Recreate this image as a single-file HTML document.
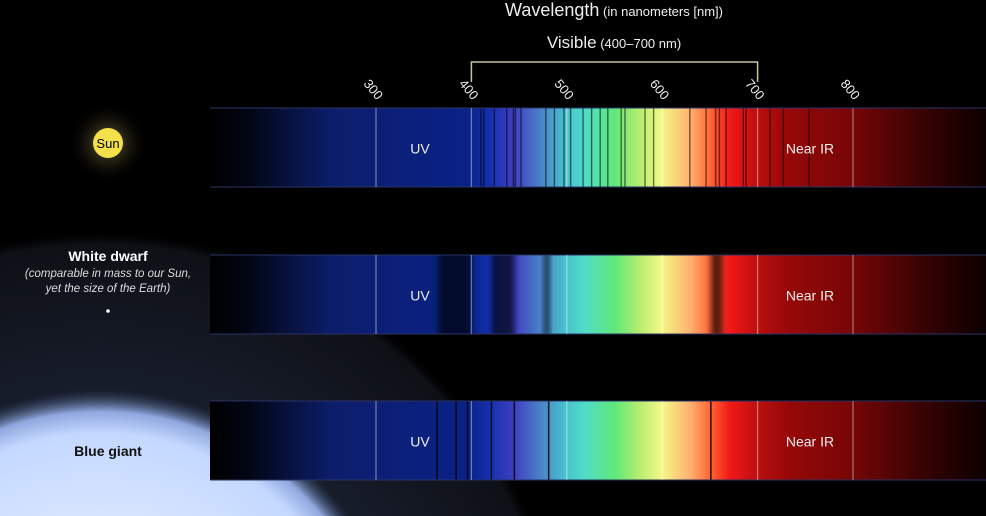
<!DOCTYPE html>
<html><head><meta charset="utf-8"><style>
html,body{margin:0;padding:0;background:#000;width:986px;height:516px;overflow:hidden;}
svg{display:block;font-family:"Liberation Sans",sans-serif;}
</style></head><body>
<svg id="chart" width="986" height="516" viewBox="0 0 986 516" xmlns="http://www.w3.org/2000/svg">
<defs>
  <radialGradient id="halo" cx="100" cy="700" r="470" gradientUnits="userSpaceOnUse">
    <stop offset="0" stop-color="#2e3a52"/>
    <stop offset="0.7" stop-color="#161b28"/>
    <stop offset="0.97" stop-color="#0e1016"/>
    <stop offset="1" stop-color="#000" stop-opacity="0"/>
  </radialGradient>
  <radialGradient id="giant" cx="100" cy="700" r="310" gradientUnits="userSpaceOnUse">
    <stop offset="0" stop-color="#ffffff"/>
    <stop offset="0.86" stop-color="#c4d8ff"/>
    <stop offset="0.93" stop-color="#90a8de"/>
    <stop offset="1" stop-color="#3a4a70" stop-opacity="0"/>
  </radialGradient>
  <radialGradient id="sunglow" cx="0.5" cy="0.5" r="0.5">
    <stop offset="0" stop-color="#fff" stop-opacity="0.35"/>
    <stop offset="0.4" stop-color="#aa9955" stop-opacity="0.25"/>
    <stop offset="1" stop-color="#000" stop-opacity="0"/>
  </radialGradient>
  <filter id="blur" x="-50%" y="0" width="200%" height="100%"><feGaussianBlur stdDeviation="3 0"/></filter>
  <linearGradient id="spec" x1="210" x2="986" y1="0" y2="0" gradientUnits="userSpaceOnUse">
    <stop offset="0" stop-color="#000"/>
    <stop offset="0.05" stop-color="#020614"/>
    <stop offset="0.155" stop-color="#0c1d6a"/>
    <stop offset="0.335" stop-color="#0a2288"/>
    <stop offset="0.361" stop-color="#1530b0"/>
    <stop offset="0.393" stop-color="#4040c0"/>
    <stop offset="0.425" stop-color="#4a80c8"/>
    <stop offset="0.457" stop-color="#48c0cc"/>
    <stop offset="0.483" stop-color="#50dcc8"/>
    <stop offset="0.522" stop-color="#60e878"/>
    <stop offset="0.554" stop-color="#b8ec70"/>
    <stop offset="0.582" stop-color="#f4f888"/>
    <stop offset="0.619" stop-color="#ffb070"/>
    <stop offset="0.647" stop-color="#ff6030"/>
    <stop offset="0.670" stop-color="#f01818"/>
    <stop offset="0.709" stop-color="#b80e0e"/>
    <stop offset="0.747" stop-color="#960808"/>
    <stop offset="0.825" stop-color="#780606"/>
    <stop offset="0.915" stop-color="#3a0303"/>
    <stop offset="1" stop-color="#0c0000"/>
  </linearGradient>
</defs>
<rect width="986" height="516" fill="#000"/>
<circle cx="100" cy="700" r="470" fill="url(#halo)"/>
<circle cx="100" cy="700" r="310" fill="url(#giant)"/>
<circle cx="108" cy="143" r="40" fill="url(#sunglow)"/>
<circle cx="108" cy="143" r="15" fill="#f4e04a"/>
<text x="108" y="148" text-anchor="middle" font-size="13" fill="#000">Sun</text>
<text x="108" y="261" text-anchor="middle" font-size="14" font-weight="bold" fill="#fff">White dwarf</text>
<text x="108" y="277" text-anchor="middle" font-size="11.5" font-style="italic" fill="#ddd">(comparable in mass to our Sun,</text>
<text x="108" y="292" text-anchor="middle" font-size="11.5" font-style="italic" fill="#ddd">yet the size of the Earth)</text>
<circle cx="108" cy="311" r="1.8" fill="#fff"/>
<text x="108" y="456" text-anchor="middle" font-size="14" font-weight="bold" fill="#111">Blue giant</text>

<text x="614" y="16" text-anchor="middle" fill="#eee"><tspan font-size="18">Wavelength</tspan><tspan font-size="13"> (in nanometers [nm])</tspan></text>
<text x="614" y="48" text-anchor="middle" fill="#eee"><tspan font-size="17">Visible</tspan><tspan font-size="13"> (400–700 nm)</tspan></text>
<g id="bracket"></g>
<g id="ticks"></g>
<g id="bands"></g>
</svg>
<script>
const tickValues = [300, 400, 500, 600, 700, 800];
const visibleRange = [400, 700];
const stars = ["sun", "white-dwarf", "blue-giant"];
const sunLines = [410,413,424,437,444,446,452,478,487,497,504,517,526,535,543,557,561,582,591,629,646,656,660,667,685,688,713,727,754];
const dwarfDark = [[365,400],[421,445],[476,482],[651,663]];
const giantLines = [364,384,396,421,445,481,651];

const NS = "http://www.w3.org/2000/svg";
const x = nm => 376 + (nm - 300) * 0.954;
const bandY = [108, 255, 401], bandH = 79;
function mk(tag, attrs, parent){const e=document.createElementNS(NS,tag);for(const k in attrs)e.setAttribute(k,attrs[k]);parent.appendChild(e);return e;}
const bracket = document.getElementById('bracket');
const br = mk('path',{d:`M${x(visibleRange[0])},82 V62 H${x(visibleRange[1])} V82`,fill:'none',stroke:'#c8c49a','stroke-width':1.5},bracket);


const ticks = document.getElementById('ticks');
tickValues.forEach(v=>{
  const t = mk('text',{transform:`translate(${x(v)-13},84) rotate(50)`,'font-size':13,fill:'#eee'},ticks);
  t.textContent = v;
  
  
});
const bands = document.getElementById('bands');
stars.forEach((s,i)=>{
  const y = bandY[i];
  const g = mk('g',{},bands);
  
  
  mk('rect',{x:210,y:y,width:776,height:bandH,fill:'url(#spec)'},g);
  if(s==='sun'){
    sunLines.forEach(l=>{const e=mk('rect',{x:x(l)-0.7,y:y,width:1.4,height:bandH,fill:'#000',opacity:0.55},g);
      
      });
  } else if(s==='white-dwarf'){
    dwarfDark.forEach(d=>{const e=mk('rect',{x:x(d[0]),y:y,width:x(d[1])-x(d[0]),height:bandH,fill:'#000',opacity:0.65,filter:'url(#blur)'},g);
      
      });
  } else {
    giantLines.forEach(l=>{const e=mk('rect',{x:x(l)-0.8,y:y,width:1.6,height:bandH,fill:'#000',opacity:0.8},g);
      
      });
  }
  mk('line',{x1:210,x2:986,y1:y,y2:y,stroke:'#2a3366','stroke-width':1},g);
  mk('line',{x1:210,x2:986,y1:y+bandH,y2:y+bandH,stroke:'#2a3366','stroke-width':1},g);
  tickValues.forEach(v=>mk('line',{x1:x(v),x2:x(v),y1:y,y2:y+bandH,stroke:'#fff','stroke-opacity':0.4,'stroke-width':1.3},g));
  const uv = mk('text',{x:420,y:y+bandH/2+6,'text-anchor':'middle','font-size':14,fill:'#eee'},g);
  uv.textContent='UV';
  
  
  const ir = mk('text',{x:810,y:y+bandH/2+6,'text-anchor':'middle','font-size':14,fill:'#eee'},g);
  ir.textContent='Near IR';
  
  
});
</script>
</body></html>
